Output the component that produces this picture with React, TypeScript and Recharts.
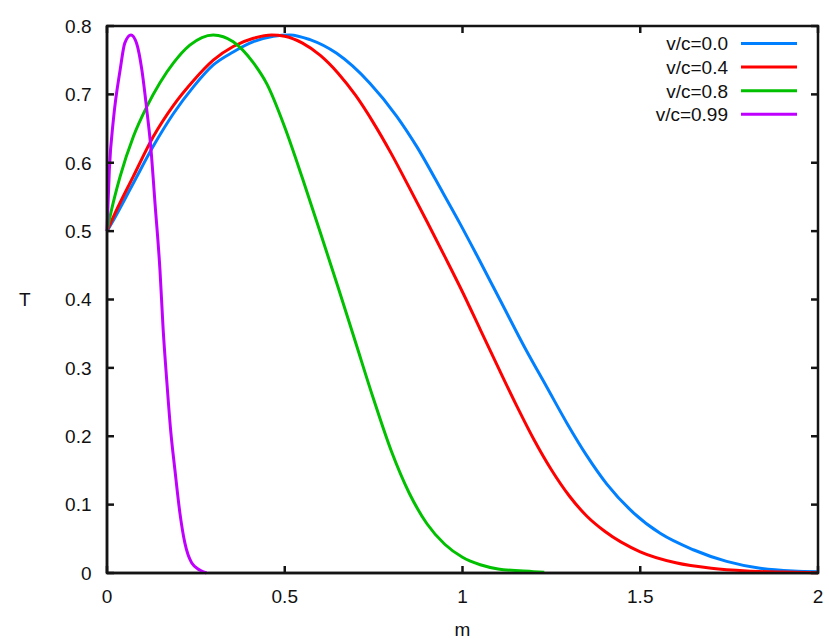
import { LineChart, Line, XAxis, YAxis, ReferenceArea } from 'recharts';

const X_TICKS = [0, 0.5, 1, 1.5, 2];
const Y_TICKS = [0, 0.1, 0.2, 0.3, 0.4, 0.5, 0.6, 0.7, 0.8];

const mV00 = [0, 0.018, 0.074, 0.13, 0.187, 0.243, 0.299, 0.355, 0.412, 0.468, 0.515, 0.571, 0.646, 0.74, 0.815, 0.871, 0.946, 0.993, 1.04, 1.105, 1.18, 1.237, 1.295, 1.349, 1.406, 1.481, 1.556, 1.649, 1.743, 1.837, 1.93, 2.0];
const tV00 = [0.5, 0.516, 0.57, 0.624, 0.672, 0.711, 0.743, 0.762, 0.777, 0.785, 0.787, 0.78, 0.76, 0.716, 0.668, 0.624, 0.555, 0.511, 0.465, 0.4, 0.325, 0.272, 0.218, 0.172, 0.13, 0.088, 0.058, 0.034, 0.017, 0.007, 0.003, 0.002];

const mV04 = [0, 0.018, 0.074, 0.13, 0.187, 0.243, 0.299, 0.355, 0.412, 0.463, 0.5, 0.55, 0.6, 0.65, 0.7, 0.75, 0.8, 0.85, 0.9, 0.95, 1.0, 1.05, 1.1, 1.15, 1.2, 1.25, 1.3, 1.35, 1.4, 1.5, 1.6, 1.7, 1.8, 1.9, 2.0];
const tV04 = [0.5, 0.521, 0.58, 0.638, 0.684, 0.72, 0.75, 0.77, 0.782, 0.787, 0.785, 0.775, 0.757, 0.731, 0.698, 0.658, 0.613, 0.564, 0.514, 0.463, 0.411, 0.356, 0.301, 0.247, 0.196, 0.151, 0.113, 0.083, 0.061, 0.031, 0.015, 0.007, 0.003, 0.0013, 0.0005];

const mV08 = [0, 0.0084, 0.037, 0.074, 0.112, 0.149, 0.187, 0.233, 0.299, 0.355, 0.412, 0.45, 0.5, 0.55, 0.6, 0.65, 0.7, 0.75, 0.8, 0.85, 0.9, 0.95, 1.0, 1.05, 1.1, 1.2, 1.23];
const tV08 = [0.5, 0.521, 0.58, 0.638, 0.682, 0.717, 0.746, 0.772, 0.787, 0.777, 0.746, 0.715, 0.652, 0.577, 0.498, 0.418, 0.336, 0.254, 0.178, 0.117, 0.072, 0.042, 0.023, 0.012, 0.006, 0.002, 0.001];

const mV099 = [0, 0.0066, 0.018, 0.037, 0.05, 0.0675, 0.083, 0.098, 0.112, 0.123, 0.135, 0.149, 0.158, 0.168, 0.179, 0.191, 0.205, 0.219, 0.238, 0.262, 0.28];
const tV099 = [0.5, 0.59, 0.663, 0.736, 0.775, 0.787, 0.775, 0.736, 0.677, 0.624, 0.541, 0.443, 0.356, 0.282, 0.209, 0.151, 0.088, 0.044, 0.015, 0.004, 0];

const SERIES = [
  { key: 's00', name: 'v/c=0.0', color: '#0080ff', ms: mV00, ts: tV00 },
  { key: 's04', name: 'v/c=0.4', color: '#ff0000', ms: mV04, ts: tV04 },
  { key: 's08', name: 'v/c=0.8', color: '#00c000', ms: mV08, ts: tV08 },
  { key: 's099', name: 'v/c=0.99', color: '#c000ff', ms: mV099, ts: tV099 },
];

// one table over the union of m values; each series fills its own column
const allM = Array.from(new Set(SERIES.flatMap((s) => s.ms))).sort((a, b) => a - b);
const data = allM.map((m) => {
  const row: Record<string, number> = { m };
  SERIES.forEach((s) => {
    const i = s.ms.indexOf(m);
    if (i >= 0) row[s.key] = s.ts[i];
  });
  return row;
});

const W = 829;
const H = 642;
const MARGIN = { top: 26, right: 11, bottom: 0, left: 0 };
const PLOT_TOP = MARGIN.top;
const PLOT_RIGHT = W - MARGIN.right;

const FONT = '"Liberation Sans", Arial, sans-serif';
const INK = '#111';
const FRAME = '#141414';
const TICK_LEN = 7;

// bottom tick: inward mark on the bottom border, mirrored mark on the top border, label
const BottomTick = (props: any) => {
  const { x, y, payload } = props;
  return (
    <g>
      <line x1={x} x2={x} y1={y} y2={y - TICK_LEN} stroke={FRAME} strokeWidth={2.5} />
      <line x1={x} x2={x} y1={PLOT_TOP} y2={PLOT_TOP + TICK_LEN} stroke={FRAME} strokeWidth={2.5} />
      <text x={x} y={y + 30} textAnchor="middle" fontSize={19} fontFamily={FONT} fill={INK}>
        {payload.value}
      </text>
    </g>
  );
};

// left tick: inward mark on the left border, mirrored mark on the right border, label
const LeftTick = (props: any) => {
  const { x, y, payload } = props;
  return (
    <g>
      <line x1={x} x2={x + TICK_LEN} y1={y} y2={y} stroke={FRAME} strokeWidth={2.5} />
      <line x1={PLOT_RIGHT} x2={PLOT_RIGHT - TICK_LEN} y1={y} y2={y} stroke={FRAME} strokeWidth={2.5} />
      <text x={x - 15.5} y={y + 6.8} textAnchor="end" fontSize={19} fontFamily={FONT} fill={INK}>
        {payload.value}
      </text>
    </g>
  );
};

const Overlay = () => (
  <svg width={W} height={H} style={{ position: 'absolute', left: 0, top: 0, fontFamily: FONT, pointerEvents: 'none' }}>
    {SERIES.map((s, i) => {
      const cy = 43.5 + i * 23.6;
      return (
        <g key={s.key}>
          <text x={728} y={cy + 6.8} textAnchor="end" fontSize={19} fill={INK}>
            {s.name}
          </text>
          <line x1={741} x2={797} y1={cy} y2={cy} stroke={s.color} strokeWidth={3} />
        </g>
      );
    })}
    <text x={462.5} y={636} textAnchor="middle" fontSize={19} fill={INK}>
      m
    </text>
  </svg>
);

export default function App() {
  return (
    <div style={{ position: 'absolute', left: 0, top: 0, width: W, height: H, background: '#fff' }}>
      <LineChart width={W} height={H} data={data} margin={MARGIN}>
        <XAxis
          xAxisId="b"
          dataKey="m"
          type="number"
          domain={[0, 2]}
          ticks={X_TICKS}
          height={69}
          tick={<BottomTick />}
          tickSize={0}
          tickMargin={0}
          tickLine={false}
          axisLine={{ stroke: FRAME, strokeWidth: 2.5 }}
        />
        <YAxis
          yAxisId="l"
          type="number"
          domain={[0, 0.8]}
          ticks={Y_TICKS}
          width={107}
          tick={<LeftTick />}
          tickSize={0}
          tickMargin={0}
          tickLine={false}
          axisLine={{ stroke: FRAME, strokeWidth: 2.5 }}
          label={{ value: 'T', position: 'insideLeft', offset: 19, fill: INK, fontSize: 19, fontFamily: FONT }}
        />
        <ReferenceArea
          xAxisId="b"
          yAxisId="l"
          x1={0}
          x2={2}
          y1={0}
          y2={0.8}
          fill="none"
          stroke={FRAME}
          strokeWidth={2.5}
        />
        {SERIES.map((s) => (
          <Line
            key={s.key}
            xAxisId="b"
            yAxisId="l"
            dataKey={s.key}
            name={s.name}
            type="monotone"
            stroke={s.color}
            strokeWidth={3}
            dot={false}
            connectNulls
            isAnimationActive={false}
          />
        ))}
      </LineChart>
      <Overlay />
    </div>
  );
}
